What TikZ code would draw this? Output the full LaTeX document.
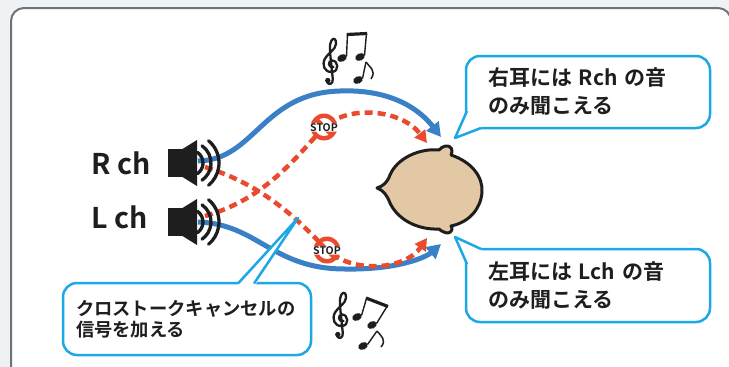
\documentclass[tikz,border=0pt]{standalone}
\usepackage{fontspec}
\setmainfont{Noto Sans CJK JP}[BoldFont={Noto Sans CJK JP Bold}]
\usetikzlibrary{arrows.meta}

\definecolor{bgout}{HTML}{EEF2F5}
\definecolor{framecol}{HTML}{707375}
\definecolor{wire}{HTML}{3A80C6}
\definecolor{cross}{HTML}{EA4A2E}
\definecolor{callout}{HTML}{1BA8E4}
\definecolor{skin}{HTML}{E3C8A5}
\definecolor{ink}{HTML}{1E1E1E}

\tikzset{
  direct/.style={wire, line width=5pt, -{Triangle[length=14pt,width=15pt]}},
  leak/.style={cross, line width=4.5pt, dash pattern=on 8pt off 5pt, -{Triangle[length=12pt,width=13pt]}},
  callbox/.style={draw=callout, line width=2.5pt, fill=white, rounded corners=14pt,
    text=ink, font=\bfseries, align=left},
  chlabel/.style={anchor=west, inner sep=0pt, text=ink, font=\fontsize{28.5}{28.5}\selectfont\bfseries},
  wave/.style={ink, line width=3.3pt, line cap=round},
  speaker/.pic={
    \fill[ink] (-22,-14) rectangle (-7,14);
    \fill[ink] (-7.5,-14) -- (7,-23) -- (7,23) -- (-7.5,14) -- cycle;
    \draw[wave] (-55:13) arc[start angle=-55, end angle=55, radius=13];
    \draw[wave] (-55:21) arc[start angle=-55, end angle=55, radius=21];
    \draw[wave] (-50:29) arc[start angle=-50, end angle=50, radius=29];
  },
  stopsign/.pic={
    \fill[cross] (0,0) circle (13.5);
    \fill[white] (0,0) circle (9);
    \draw[cross, line width=4.5pt] (-9,-9) -- (9,9);
    \node[ink, fill=white, rounded corners=1.5pt, inner xsep=0.8pt, inner ysep=0.2pt,
      font=\fontsize{10.5}{10.5}\selectfont\bfseries] at (0,0.5) {STOP};
  },
  % treble clef drawn as a stroked outline, about 46 units tall
  clef/.pic={
    \draw[ink, line width=2.3pt, line cap=round, line join=round]
      (2.5,5) .. controls (-3,6) and (-3.5,-1) .. (1,-1.5)
      .. controls (7.5,-1.5) and (8.5,9.5) .. (1,10)
      .. controls (-6.5,10.5) and (-9.5,3) .. (-6,-3.5)
      .. controls (-3,-9) and (4.5,-12) .. (5,-18)
      .. controls (5.5,-23) and (2.5,-25) .. (0.5,-21.5)
      .. controls (-2,-18) and (-1,-10) .. (0,0)
      -- (1.8,17)
      .. controls (2.4,22) and (-2.5,23.5) .. (-4,20);
    \fill[ink] (-3.2,18.5) circle (2.7);
  },
  notehead/.style={ink}
}

\begin{document}
\begin{tikzpicture}[x=1pt, y=-1pt]
\useasboundingbox (0,0) rectangle (729,367);
\fill[bgout] (0,0) rectangle (729,367);

% panel frame
\begin{scope}
  \clip (0,0) rectangle (729,367);
  \draw[framecol, line width=2pt, fill=white, rounded corners=13pt] (11,8) rectangle (731,420);
\end{scope}

% end points of the signal paths
\coordinate (outR) at (198,161);
\coordinate (outL) at (198,222);
\coordinate (leakR) at (205,167);
\coordinate (leakL) at (205,216);
\coordinate (stopT) at (324,127);
\coordinate (stopB) at (327,250);
\coordinate (earR) at (441,137);
\coordinate (earL) at (441,244);
\coordinate (earRx) at (427,143);
\coordinate (earLx) at (427,238);

% direct paths
\draw[direct] (outR) .. controls (255,160) and (262,93) .. (340,91)
  .. controls (392,89) and (420,110) .. (earR);
\draw[direct] (outL) .. controls (258,224) and (272,269) .. (345,269)
  .. controls (395,270) and (425,258) .. (earL);

% crosstalk paths
\draw[leak] (leakR) .. controls (266,186) and (300,222) .. (stopB)
  .. controls (353,274) and (405,270) .. (earLx);
\draw[leak] (leakL) .. controls (266,199) and (298,155) .. (stopT)
  .. controls (350,104) and (402,110) .. (earRx);

% stop marks
\pic at (stopT) {stopsign};
\pic at (stopB) {stopsign};

% speakers and labels
\pic at (190,163) {speaker};
\pic at (190,222) {speaker};
\node[chlabel] (rch) at (91,163) {R ch};
\node[chlabel] (lch) at (91,217) {L ch};

% listener's head, seen from above
\path[fill=skin, draw=ink, line width=3pt, line join=round]
  (377,188) .. controls (383,186) and (387,183) .. (390,175)
  .. controls (397,158) and (420,148) .. (439,150)
  .. controls (442,146) and (449,144) .. (451.5,148.5)
  .. controls (452.5,151) and (452,153) .. (451,155)
  .. controls (472,162) and (483,177) .. (482,192)
  .. controls (481,208) and (470,222) .. (451,226)
  .. controls (453,228) and (452,232.5) .. (448,233)
  .. controls (445,233) and (441,231) .. (439,229)
  .. controls (418,230) and (398,220) .. (390,203)
  .. controls (387,195) and (383,190) .. (377,188) -- cycle;

% callouts
\node[callbox, font=\fontsize{21}{28}\selectfont\bfseries, text width=200pt,
  inner xsep=22pt, minimum height=72pt] (noteR) at (588,92) {右耳には Rch の音\\のみ聞こえる};
\fill[white] (468,110) -- (455,138) -- (482,127) -- cycle;
\draw[callout, line width=2.5pt, line join=round] (467,111) -- (455,138) -- (481,128);

\node[callbox, font=\fontsize{21}{28}\selectfont\bfseries, text width=200pt,
  inner xsep=22pt, minimum height=73pt] (noteL) at (588,285.5) {左耳には Lch の音\\のみ聞こえる};
\fill[white] (468,265) -- (455,237) -- (482,250) -- cycle;
\draw[callout, line width=2.5pt, line join=round] (467,264) -- (455,237) -- (481,249);

\node[callbox, font=\fontsize{18.3}{20.5}\selectfont\bfseries, text width=222pt,
  inner xsep=13pt, minimum height=72pt] (noteX) at (187,319) {クロストークキャンセルの\\信号を加える};
\fill[white] (237,285.5) -- (298,218) -- (255,285.5) -- cycle;
\draw[callout, line width=2.5pt, line join=round] (238,283.5) -- (298,218) -- (254,283.5);

% music notes, upper group
\pic at (331,62) {clef};
\fill[notehead, rotate around={25:(342,58)}] (342,58) ellipse (5 and 3.6);
\fill[notehead, rotate around={25:(360,57)}] (360,57) ellipse (5 and 3.6);
\draw[ink, line width=1.4pt] (346.5,56.5) -- (347.5,33.5);
\draw[ink, line width=1.4pt] (364.5,55.5) -- (366.5,33);
\draw[ink, line width=3.2pt] (346.8,34.5) -- (367.2,33.5);
\fill[notehead, rotate around={25:(358,80)}] (358,80) ellipse (5 and 3.6);
\draw[ink, line width=1.4pt] (362.5,78.5) -- (366,62);
\draw[ink, line width=1.5pt] (366,62) .. controls (369,67) and (377,70) .. (371,79);

% music notes, lower group
\pic at (341,316) {clef};
\fill[notehead, rotate around={25:(357,317)}] (357,317) ellipse (5 and 3.6);
\fill[notehead, rotate around={25:(372,325)}] (372,325) ellipse (5 and 3.6);
\draw[ink, line width=1.4pt] (361.5,315.5) -- (366.5,298.5);
\draw[ink, line width=1.4pt] (376.5,323.5) -- (387,306.5);
\draw[ink, line width=3.2pt] (366,298) -- (388,306.5);
\fill[notehead, rotate around={25:(363,346)}] (363,346) ellipse (5 and 3.6);
\draw[ink, line width=1.4pt] (367.5,344.5) -- (377,331);
\draw[ink, line width=1.5pt] (377,331) .. controls (381,336) and (387,340) .. (381,347);
\end{tikzpicture}
\end{document}
